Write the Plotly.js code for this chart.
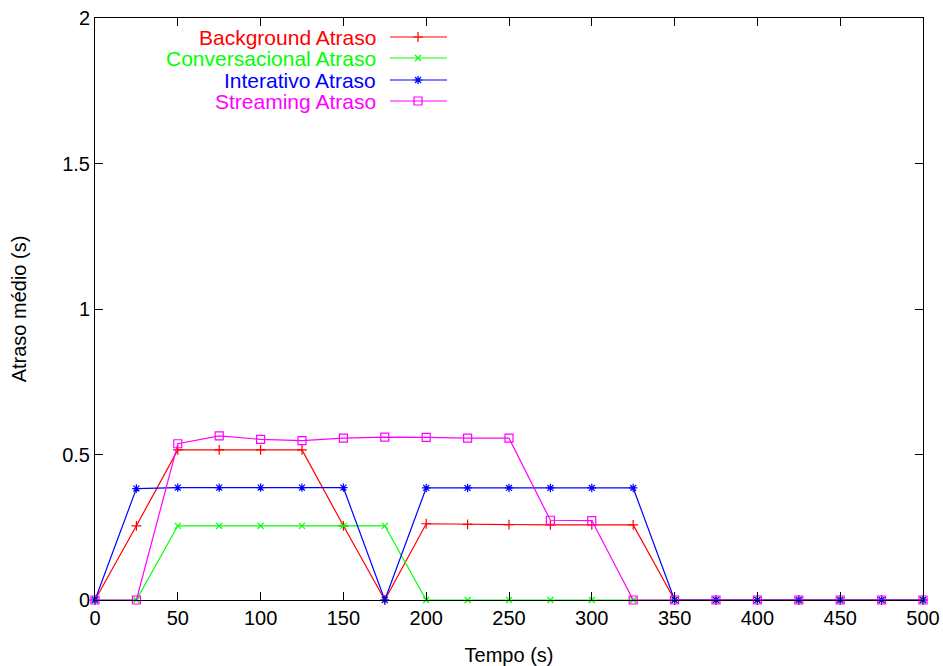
<!DOCTYPE html>
<html>
<head>
<meta charset="utf-8">
<script src="https://cdn.plot.ly/plotly-3.0.1.min.js"></script>
<style>
  html, body { margin: 0; padding: 0; background: #fff; }
  #chart { width: 943px; height: 666px; }
</style>
</head>
<body>
<div id="chart"></div>
<script>
// Simulation time (s)
const tempo = [0, 25, 50, 75, 100, 125, 150, 175, 200, 225, 250, 275, 300, 325, 350, 375, 400, 425, 450, 475, 500];

// Mean delay per traffic class (s)
const background     = [0, 0.255, 0.516, 0.516, 0.516, 0.516, 0.255, 0, 0.262, 0.260, 0.259, 0.258, 0.258, 0.258, 0, 0, 0, 0, 0, 0, 0];
const conversacional = [0, 0, 0.255, 0.255, 0.255, 0.255, 0.255, 0.255, 0, 0, 0, 0, 0, 0, 0, 0, 0, 0, 0, 0, 0];
const interativo     = [0, 0.383, 0.386, 0.386, 0.386, 0.386, 0.386, 0, 0.385, 0.385, 0.385, 0.385, 0.385, 0.385, 0, 0, 0, 0, 0, 0, 0];
const streaming      = [0, 0, 0.537, 0.564, 0.552, 0.548, 0.556, 0.560, 0.559, 0.556, 0.556, 0.274, 0.273, 0, 0, 0, 0, 0, 0, 0, 0];

const seriesNames = ['Background Atraso', 'Conversacional Atraso', 'Interativo Atraso', 'Streaming Atraso'];
const seriesData = [background, conversacional, interativo, streaming];
const colors = ['#ff0000', '#00ff00', '#0000ff', '#ff00ff'];
const symbols = ['cross-thin-open', 'x-thin-open', 'asterisk-open', 'square-open'];
const markerSizes = [7, 6, 7, 8];

const FONT = 'Liberation Sans, Arial, Helvetica, sans-serif';

const traces = [];
seriesData.forEach((ys, i) => {
  traces.push({
    x: tempo, y: ys, type: 'scatter', mode: 'lines+markers',
    name: seriesNames[i], showlegend: false,
    line: { color: colors[i], width: 1.2 },
    marker: { symbol: symbols[i], size: markerSizes[i], color: colors[i], line: { color: colors[i], width: 1.2 } },
    xaxis: 'x', yaxis: 'y', cliponaxis: false
  });
});

// Key in the top-left corner: label on the left, line sample with marker on the right.
// Drawn on an overlay axis pair whose units are screen pixels.
const keyRows = [37, 58, 80, 101];
const annotations = [];
seriesNames.forEach((name, i) => {
  traces.push({
    x: [390, 447], y: [keyRows[i], keyRows[i]], type: 'scatter', mode: 'lines',
    line: { color: colors[i], width: 1.2 }, showlegend: false, hoverinfo: 'skip',
    xaxis: 'x2', yaxis: 'y2'
  });
  traces.push({
    x: [418], y: [keyRows[i]], type: 'scatter', mode: 'markers',
    marker: { symbol: symbols[i], size: markerSizes[i], color: colors[i], line: { color: colors[i], width: 1.2 } },
    showlegend: false, hoverinfo: 'skip', xaxis: 'x2', yaxis: 'y2'
  });
  annotations.push({
    x: 378, y: keyRows[i], xref: 'x2', yref: 'y2', text: name, showarrow: false,
    xanchor: 'right', yanchor: 'middle', font: { family: FONT, size: 21, color: colors[i] }
  });
});

const layout = {
  width: 943, height: 666,
  margin: { l: 95, r: 20, t: 18, b: 66, pad: 0 },
  paper_bgcolor: '#ffffff', plot_bgcolor: '#ffffff',
  font: { family: FONT, size: 20, color: '#000' },
  showlegend: false,
  xaxis: {
    range: [0, 500], tick0: 0, dtick: 50, ticks: 'inside', ticklen: 8, tickcolor: '#000', tickwidth: 1,
    showline: true, linecolor: '#000', linewidth: 1, mirror: 'allticks', showgrid: false, zeroline: false,
    tickfont: { family: FONT, size: 20, color: '#000' },
    title: { text: 'Tempo (s)', font: { family: FONT, size: 20, color: '#000' }, standoff: 20 }
  },
  yaxis: {
    range: [0, 2], tick0: 0, dtick: 0.5, ticks: 'inside', ticklen: 8, tickcolor: '#000', tickwidth: 1,
    showline: true, linecolor: '#000', linewidth: 1, mirror: 'allticks', showgrid: false, zeroline: false,
    tickfont: { family: FONT, size: 20, color: '#000' },
    title: { text: 'Atraso médio (s)', font: { family: FONT, size: 20, color: '#000' }, standoff: 30 }
  },
  xaxis2: { overlaying: 'x', range: [95, 923], visible: false, fixedrange: true },
  yaxis2: { overlaying: 'y', range: [600, 18], visible: false, fixedrange: true },
  annotations: annotations
};

Plotly.newPlot('chart', traces, layout, { displayModeBar: false, staticPlot: true });
</script>
</body>
</html>
